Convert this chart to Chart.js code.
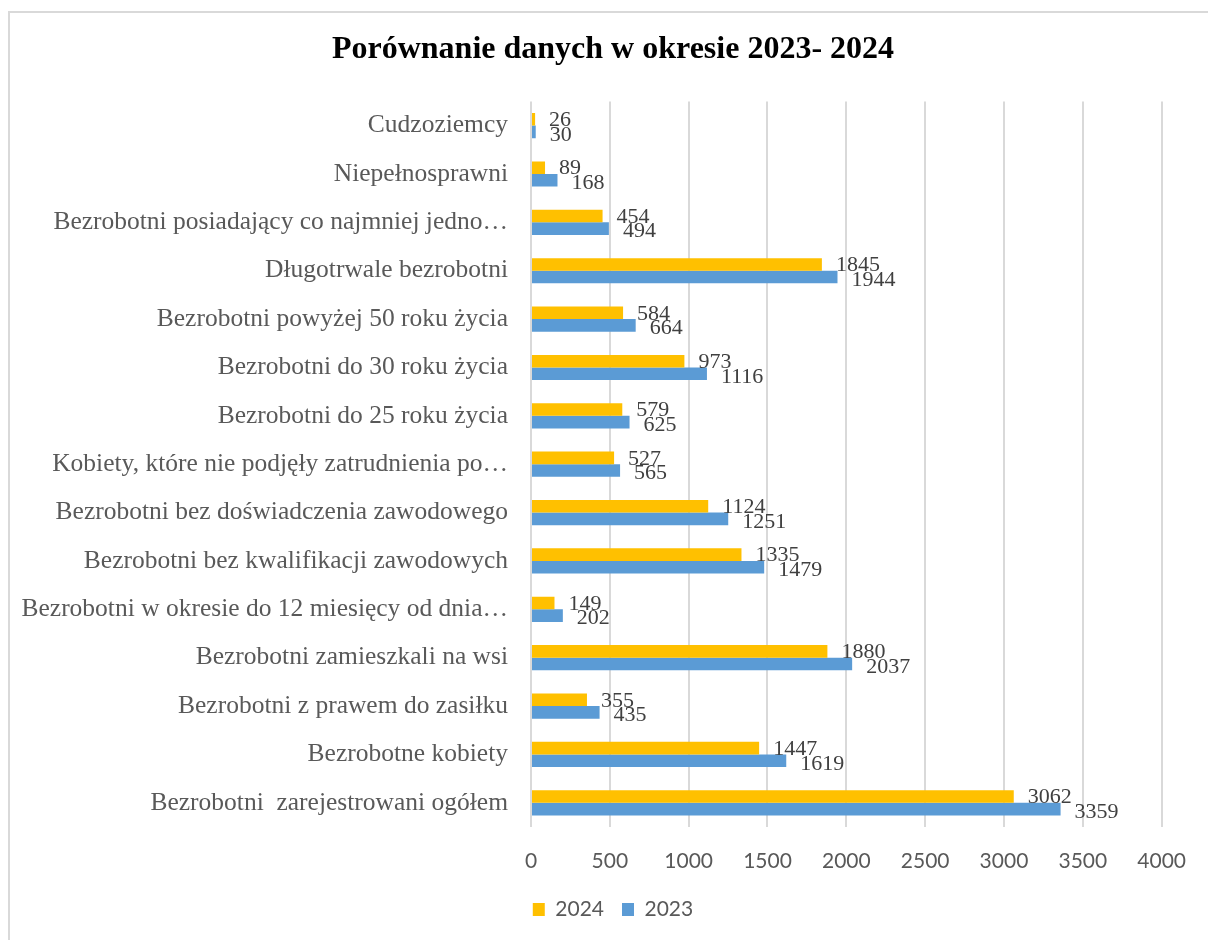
<!DOCTYPE html>
<html>
<head>
<meta charset="utf-8">
<script src="https://cdn.jsdelivr.net/npm/chart.js@4"></script>
<style>
  html, body { margin: 0; padding: 0; background: #fff; overflow: hidden; }
  #wrap { position: relative; width: 1208px; height: 940px; }
  #c { position: absolute; left: 0; top: 0; }
  #frame { position: absolute; left: 8px; top: 11px; width: 1400px; height: 1200px;
           border: 2px solid #d9d9d9; pointer-events: none; box-sizing: border-box; }
</style>
</head>
<body>
<div id="wrap">
  <canvas id="c" width="1208" height="940"></canvas>
  <div id="frame"></div>
</div>
<script>
const titleText = 'Porównanie danych w okresie 2023- 2024';
const categories = [
  'Cudzoziemcy',
  'Niepełnosprawni',
  'Bezrobotni posiadający co najmniej jedno…',
  'Długotrwale bezrobotni',
  'Bezrobotni powyżej 50 roku życia',
  'Bezrobotni do 30 roku życia',
  'Bezrobotni do 25 roku życia',
  'Kobiety, które nie podjęły zatrudnienia po…',
  'Bezrobotni bez doświadczenia zawodowego',
  'Bezrobotni bez kwalifikacji zawodowych',
  'Bezrobotni w okresie do 12 miesięcy od dnia…',
  'Bezrobotni zamieszkali na wsi',
  'Bezrobotni z prawem do zasiłku',
  'Bezrobotne kobiety',
  'Bezrobotni  zarejestrowani ogółem'
];
const values2024 = [26, 89, 454, 1845, 584, 973, 579, 527, 1124, 1335, 149, 1880, 355, 1447, 3062];
const values2023 = [30, 168, 494, 1944, 664, 1116, 625, 565, 1251, 1479, 202, 2037, 435, 1619, 3359];
const seriesNames = ['2024', '2023'];
const xTicks = [0, 500, 1000, 1500, 2000, 2500, 3000, 3500, 4000];

const valueLabels = {
  id: 'valueLabels',
  afterDatasetsDraw(chart) {
    const ctx = chart.ctx;
    ctx.save();
    ctx.font = '22px "Liberation Serif", "Times New Roman", serif';
    ctx.fillStyle = '#404040';
    ctx.textAlign = 'left';
    ctx.textBaseline = 'middle';
    chart.data.datasets.forEach((ds, di) => {
      const meta = chart.getDatasetMeta(di);
      meta.data.forEach((bar, i) => {
        const dy = di === 0 ? 1 : 3;
        ctx.fillText(String(ds.data[i]), bar.x + 14, bar.y + dy);
      });
    });
    ctx.restore();
  }
};

new Chart(document.getElementById('c'), {
  type: 'bar',
  data: {
    labels: categories,
    datasets: [
      { label: seriesNames[0], data: values2024, backgroundColor: '#FFC000' },
      { label: seriesNames[1], data: values2023, backgroundColor: '#5B9BD5' }
    ]
  },
  options: {
    indexAxis: 'y',
    responsive: false,
    animation: false,
    devicePixelRatio: 1,
    categoryPercentage: 0.52,
    barPercentage: 1.0,
    layout: { padding: { left: 18, right: 0, top: 0, bottom: 10 } },
    scales: {
      x: {
        min: 0, max: 4000,
        afterBuildTicks(scale) { scale.ticks = xTicks.map(v => ({ value: v })); },
        afterFit(scale) { scale.height = 54; },
        grid: { color: '#d9d9d9', lineWidth: 2, drawTicks: false },
        border: { display: false },
        ticks: {
          color: '#595959',
          font: { family: 'Lato', size: 21 },
          padding: 22,
          callback: (v) => String(v)
        }
      },
      y: {
        afterFit(scale) { scale.width = 513; },
        grid: { display: false },
        border: { display: false },
        ticks: {
          color: '#595959',
          font: { family: '"Liberation Serif"', size: 25.5 },
          padding: 15,
          autoSkip: false
        }
      },
      yRight: {
        type: 'category',
        position: 'right',
        labels: categories,
        afterFit(scale) { scale.width = 44; },
        grid: { display: false },
        border: { display: false },
        ticks: { display: false }
      }
    },
    plugins: {
      title: {
        display: true,
        text: titleText,
        color: '#000',
        font: { family: '"Liberation Serif"', size: 32, weight: 'bold' },
        padding: { top: 31, bottom: 32 }
      },
      legend: {
        position: 'bottom',
        labels: {
          color: '#595959',
          font: { family: 'Lato', size: 21 },
          boxWidth: 12,
          boxHeight: 13,
          padding: 18
        }
      },
      tooltip: { enabled: false }
    }
  },
  plugins: [valueLabels]
});
</script>
</body>
</html>
